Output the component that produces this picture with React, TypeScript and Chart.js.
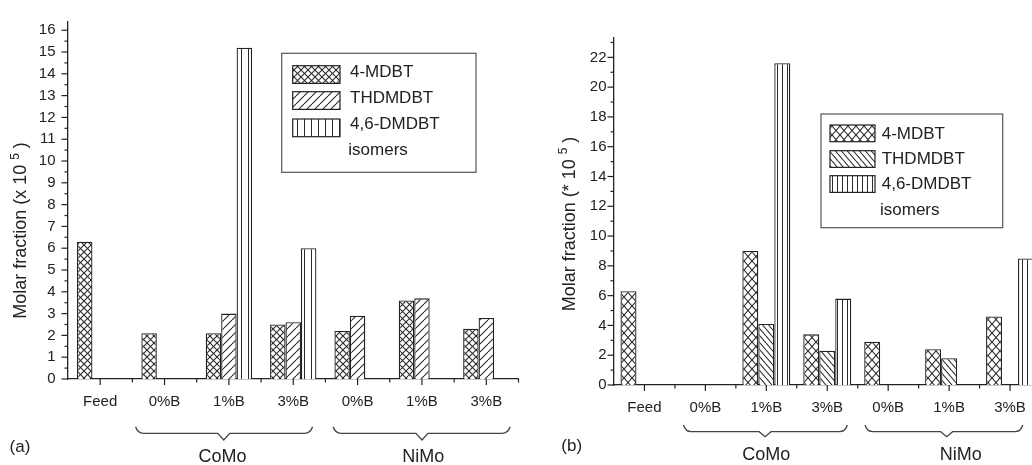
import React, { useEffect, useRef } from 'react';
import { Chart, registerables } from 'chart.js';

Chart.register(...registerables);

const FONT = '"Liberation Sans", Arial, Helvetica, sans-serif';
const INK = '#222';

// ---- data ----
const categories = ['Feed', '0%B', '1%B', '3%B', '0%B', '1%B', '3%B'];
const seriesNames = ['4-MDBT', 'THDMDBT', '4,6-DMDBT'];
const legendExtra = 'isomers';
const groupNames = ['CoMo', 'NiMo'];
const groupFrom = [1, 4];
const groupTo = [3, 6];

const aMDBT = [6.3, 2.1, 2.1, 2.5, 2.2, 3.6, 2.3];
const aTHDMDBT = [null, null, 3.0, 2.6, 2.9, 3.7, 2.8];
const aDMDBT = [null, null, 15.2, 6.0, null, null, null];

const bMDBT = [6.3, null, 9.0, 3.4, 2.9, 2.4, 4.6];
const bTHDMDBT = [null, null, 4.1, 2.3, null, 1.8, null];
const bDMDBT = [null, null, 21.6, 5.8, null, null, 8.5];

const aYTicks = [0, 1, 2, 3, 4, 5, 6, 7, 8, 9, 10, 11, 12, 13, 14, 15, 16];
const bYTicks = [0, 2, 4, 6, 8, 10, 12, 14, 16, 18, 20, 22];

const aTitle = ['Molar fraction (x 10', '5', ' )'];
const bTitle = ['Molar fraction (* 10', '5', ' )'];

// ---- patterns ----
function makePattern(kind: string, w: number, h: number) {
  const c = document.createElement('canvas');
  c.width = w;
  c.height = h;
  const g = c.getContext('2d') as CanvasRenderingContext2D;
  g.fillStyle = '#fff';
  g.fillRect(0, 0, w, h);
  g.strokeStyle = '#2a2a2a';
  g.lineWidth = 1.1;
  const fwd = () => {
    for (const dx of [-w, 0, w]) {
      g.beginPath();
      g.moveTo(dx, h);
      g.lineTo(dx + w, 0);
      g.stroke();
    }
  };
  const back = () => {
    for (const dx of [-w, 0, w]) {
      g.beginPath();
      g.moveTo(dx, 0);
      g.lineTo(dx + w, h);
      g.stroke();
    }
  };
  if (kind === 'fwd') fwd();
  else if (kind === 'back') back();
  else if (kind === 'cross') {
    fwd();
    back();
  } else {
    g.lineWidth = 1;
    g.beginPath();
    g.moveTo(Math.floor(w / 2) + 0.5, 0);
    g.lineTo(Math.floor(w / 2) + 0.5, h);
    g.stroke();
  }
  const ctx2 = document.createElement('canvas').getContext('2d') as CanvasRenderingContext2D;
  return ctx2.createPattern(c, 'repeat') as CanvasPattern;
}

type PanelCfg = {
  left: number;
  canvasW: number;
  series: (number | null)[][];
  yTicks: number[];
  yMax: number;
  yWidth: number;
  xHeight: number;
  padding: { top: number; right: number; bottom: number; left: number };
  yPad: number;
  xPad: number;
  catPct: number;
  pat: [string, number, number][];
  legend: {
    box: [number, number, number, number];
    swX: number;
    swW: number;
    swH: number;
    rowY: number[];
    textX: number;
    textY: number[];
    extra: [number, number];
  };
  brace: { y: [number, number, number]; off: [number, number, number][]; labelOff: number[]; labelY: number };
  title: string[];
  titleC: [number, number];
  panelLabel: string;
  panelC: [number, number];
};

const panelA: PanelCfg = {
  left: 0,
  canvasW: 520,
  series: [aMDBT, aTHDMDBT, aDMDBT],
  yTicks: aYTicks,
  yMax: 16.4,
  yWidth: 68,
  xHeight: 86,
  padding: { top: 13, right: 1.5, bottom: 0, left: 0 },
  yPad: 12.5,
  xPad: 14,
  catPct: 0.72,
  pat: [['cross', 7, 7], ['fwd', 8, 8], ['vert', 7, 7]],
  legend: {
    box: [281.7, 53.3, 194.3, 119],
    swX: 292.7,
    swW: 47.3,
    swH: 17.7,
    rowY: [65.7, 91.7, 119],
    textX: 350,
    textY: [72.7, 98.3, 124.3],
    extra: [348.3, 150.7],
  },
  brace: { y: [426.7, 433.3, 440], off: [[-0.45, -0.08, 0.3], [-0.38, 0, 0.37]], labelOff: [-0.1, 0.02], labelY: 456.7 },
  title: aTitle,
  titleC: [21.5, 230.5],
  panelLabel: '(a)',
  panelC: [20, 447],
};

const panelB: PanelCfg = {
  left: 520,
  canvasW: 525,
  series: [bMDBT, bTHDMDBT, bDMDBT],
  yTicks: bYTicks,
  yMax: 23.3,
  yWidth: 94,
  xHeight: 80,
  padding: { top: 38, right: 4.5, bottom: 0, left: 0 },
  yPad: 7.5,
  xPad: 14,
  catPct: 0.787,
  pat: [['cross', 8, 9], ['back', 6, 7], ['vert', 5, 5]],
  legend: {
    box: [821, 114, 181.7, 113.7],
    swX: 830,
    swW: 45,
    swH: 16.7,
    rowY: [125, 150.7, 175.7],
    textX: 881.7,
    textY: [134, 159.3, 184.3],
    extra: [880, 210],
  },
  brace: { y: [425, 431.7, 436.7], off: [[-0.36, -0.02, 0.33], [-0.38, -0.04, 0.21]], labelOff: [0, 0.19], labelY: 455 },
  title: bTitle,
  titleC: [570, 224],
  panelLabel: '(b)',
  panelC: [571.7, 446.7],
};

function Panel({ cfg }: { cfg: PanelCfg }) {
  const ref = useRef<HTMLCanvasElement>(null);
  useEffect(() => {
    const canvas = ref.current as HTMLCanvasElement;
    const patterns = cfg.pat.map(([k, w, h]) => makePattern(k, w, h));
    const L = cfg.left;

    const decor = {
      id: 'decor',
      afterDraw(chart: any) {
        const ctx = chart.ctx as CanvasRenderingContext2D;
        const xs = chart.scales.x;
        const ys = chart.scales.y;
        const area = chart.chartArea;
        ctx.save();
        ctx.strokeStyle = INK;
        ctx.lineWidth = 1.2;
        // y ticks
        const step = cfg.yTicks[1] - cfg.yTicks[0];
        for (const v of cfg.yTicks) {
          const py = ys.getPixelForValue(v);
          ctx.beginPath();
          ctx.moveTo(area.left - 6.5, py);
          ctx.lineTo(area.left, py);
          ctx.stroke();
          const m = v + step / 2;
          if (m <= cfg.yMax) {
            const pm = ys.getPixelForValue(m);
            ctx.beginPath();
            ctx.moveTo(area.left - 3.5, pm);
            ctx.lineTo(area.left, pm);
            ctx.stroke();
          }
        }
        // x ticks
        const n = categories.length;
        const p = (i: number) => xs.getPixelForValue(i);
        const s = p(1) - p(0);
        for (let i = 0; i < n; i++) {
          ctx.beginPath();
          ctx.moveTo(p(i), area.bottom);
          ctx.lineTo(p(i), area.bottom + 6);
          ctx.stroke();
          if (i > 0) {
            ctx.beginPath();
            ctx.moveTo(p(i) - s / 2, area.bottom);
            ctx.lineTo(p(i) - s / 2, area.bottom + 3.5);
            ctx.stroke();
          }
        }
        ctx.beginPath();
        ctx.moveTo(p(n - 1) + s / 2, area.bottom);
        ctx.lineTo(p(n - 1) + s / 2, area.bottom + 3.5);
        ctx.stroke();

        // legend
        const lg = cfg.legend;
        ctx.strokeStyle = '#555';
        ctx.lineWidth = 1.2;
        ctx.strokeRect(lg.box[0] - L, lg.box[1], lg.box[2], lg.box[3]);
        ctx.font = `17px ${FONT}`;
        ctx.fillStyle = INK;
        ctx.textBaseline = 'middle';
        ctx.textAlign = 'left';
        for (let i = 0; i < 3; i++) {
          ctx.fillStyle = patterns[i];
          ctx.fillRect(lg.swX - L, lg.rowY[i], lg.swW, lg.swH);
          ctx.strokeStyle = INK;
          ctx.strokeRect(lg.swX - L, lg.rowY[i], lg.swW, lg.swH);
          ctx.fillStyle = INK;
          ctx.fillText(seriesNames[i], lg.textX - L, lg.textY[i]);
        }
        ctx.fillText(legendExtra, lg.extra[0] - L, lg.extra[1]);

        // braces
        const br = cfg.brace;
        ctx.strokeStyle = '#444';
        ctx.lineWidth = 1.3;
        for (let g = 0; g < groupNames.length; g++) {
          const [o1, om, o2] = br.off[g];
          const mid0 = (groupFrom[g] + groupTo[g]) / 2;
          const x1 = p(groupFrom[g]) + o1 * s;
          const x2 = p(groupTo[g]) + o2 * s;
          const xm = p(mid0) + om * s;
          const [yT, yH, yP] = br.y;
          ctx.beginPath();
          ctx.moveTo(x1, yT);
          ctx.quadraticCurveTo(x1 + 2, yH, x1 + 8, yH);
          ctx.lineTo(xm - 6, yH);
          ctx.lineTo(xm, yP);
          ctx.lineTo(xm + 6, yH);
          ctx.lineTo(x2 - 8, yH);
          ctx.quadraticCurveTo(x2 - 2, yH, x2, yT);
          ctx.stroke();
          ctx.font = `18px ${FONT}`;
          ctx.textAlign = 'center';
          ctx.fillStyle = INK;
          ctx.fillText(groupNames[g], p(mid0) + br.labelOff[g] * s, br.labelY);
        }

        // panel label
        ctx.font = `17px ${FONT}`;
        ctx.textAlign = 'center';
        ctx.fillText(cfg.panelLabel, cfg.panelC[0] - L, cfg.panelC[1]);

        // y title
        const [t0, t1, t2] = cfg.title;
        const big = `18px ${FONT}`;
        const small = `12px ${FONT}`;
        ctx.font = big;
        const w0 = ctx.measureText(t0 + ' ').width;
        const w2 = ctx.measureText(t2).width;
        ctx.font = small;
        const w1 = ctx.measureText(t1).width;
        const total = w0 + w1 + w2;
        ctx.translate(cfg.titleC[0] - L, cfg.titleC[1]);
        ctx.rotate(-Math.PI / 2);
        ctx.textAlign = 'left';
        ctx.font = big;
        ctx.fillText(t0 + ' ', -total / 2, 0);
        ctx.font = small;
        ctx.fillText(t1, -total / 2 + w0, -6);
        ctx.font = big;
        ctx.fillText(t2, -total / 2 + w0 + w1, 0);
        ctx.restore();
      },
    };

    const chart = new Chart(canvas, {
      type: 'bar',
      data: {
        labels: categories,
        datasets: cfg.series.map((vals, i) => ({
          label: seriesNames[i],
          data: vals as any,
          backgroundColor: patterns[i] as any,
          borderColor: INK,
          borderWidth: 1.3,
          categoryPercentage: cfg.catPct,
          barPercentage: 1,
        })),
      },
      options: {
        animation: false,
        responsive: false,
        layout: { padding: cfg.padding },
        plugins: { legend: { display: false }, tooltip: { enabled: false } },
        scales: {
          x: {
            grid: { display: false, drawTicks: false },
            border: { display: true, color: INK, width: 1.3 },
            ticks: { font: { size: 15, family: FONT }, color: INK, padding: cfg.xPad, maxRotation: 0, autoSkip: false },
            afterFit: (sc: any) => {
              sc.height = cfg.xHeight;
            },
          },
          y: {
            min: 0,
            max: cfg.yMax,
            grid: { display: false, drawTicks: false },
            border: { display: true, color: INK, width: 1.3 },
            ticks: { font: { size: 15, family: FONT }, color: INK, padding: cfg.yPad },
            afterBuildTicks: (sc: any) => {
              sc.ticks = cfg.yTicks.map((v) => ({ value: v }));
            },
            afterFit: (sc: any) => {
              sc.width = cfg.yWidth;
            },
          },
        },
      } as any,
      plugins: [decor],
    });
    return () => chart.destroy();
  }, []);
  return (
    <canvas
      ref={ref}
      width={cfg.canvasW}
      height={465}
      style={{ position: 'absolute', left: cfg.left, top: 0, width: cfg.canvasW, height: 465 }}
    />
  );
}

export default function App() {
  return (
    <div
      style={{
        position: 'fixed',
        left: 0,
        top: 0,
        width: 1032,
        height: 465,
        overflow: 'hidden',
        background: '#fff',
      }}
    >
      <Panel cfg={panelA} />
      <Panel cfg={panelB} />
    </div>
  );
}
